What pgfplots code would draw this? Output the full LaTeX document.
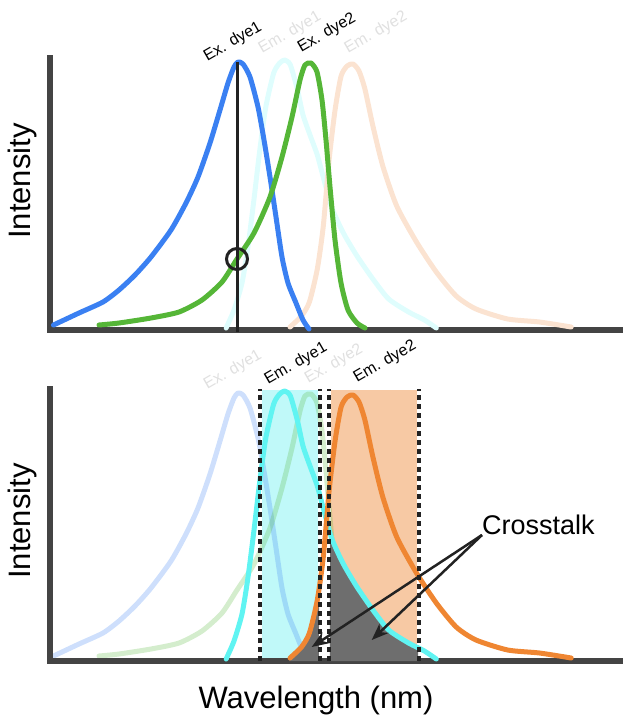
\documentclass[border=0pt]{standalone}
\usepackage{pgfplots}
\pgfplotsset{compat=1.18}
\usepackage{pgfplotstable}
\usepgfplotslibrary{fillbetween}
\usetikzlibrary{arrows.meta}
\usepackage{fontspec}
\setmainfont{Liberation Sans}
\definecolor{axgray}{HTML}{444444}
\definecolor{exblue}{HTML}{3A80F2}
\definecolor{exgreen}{HTML}{55B637}
\definecolor{emcyan}{HTML}{60F4F2}
\definecolor{emorange}{HTML}{EF8632}
\definecolor{fadecyan}{HTML}{DFFDFD}
\definecolor{fadepeach}{HTML}{FBE3D1}
\definecolor{fadetext}{HTML}{E0E0E0}
\definecolor{bandcyan}{HTML}{C0F9F9}
\definecolor{bandorange}{HTML}{F7C9A4}
\definecolor{crossgray}{HTML}{6E6E6E}
\definecolor{ink}{HTML}{222222}

\pgfplotstableread{
x y
53.5 5
79 17
103 28
119 40
135 55
151 73
171 100
186 127
198 153
210 187
220 220
228 247
234 263
238 268
243 266
250 253
258 223
264 190
270 153
276 113
282 73
288 47
296 27
303 10
309 1
}\exone
\pgfplotstableread{
x y
99 5
119 7
151 12
179 18
202 30
222 48
237 71
254 97
270 133
282 173
292 213
300 250
305 265
311 267
317 258
322 230
326 190
330 143
335 90
341 47
348 20
357 7
365 2
}\extwo
\pgfplotstableread{
x y
226.1 2
234 20
242 47
247.9 83
253.9 130
259.8 180
265.8 223
273.7 257
279.7 267
284.8 270
290.4 265
297.5 240
303 215
310 195
317.3 175
324 150
331.2 124
338 108
345 94
357 74
372.9 51
388.7 31
408.6 18
424.4 10
436.3 2
}\emone
\pgfplotstableread{
x y
290 3
301.5 14
309.4 28
317.3 61
323.3 104
329.2 171
335.2 221
341.1 254
347.1 264
353 266
359 259
364.9 241
372.9 204
382.8 164
396.7 124
416.5 88
436.3 58
456.2 34
476 21
507.7 11
539.5 8
571.2 3
}\emtwo

\pgfplotsset{
  panel/.style={scale only axis, width=580pt, height=272pt,
    xmin=50, xmax=630, ymin=0, ymax=272, clip=false,
    axis x line=bottom, axis y line=left,
    axis line style={-, line width=6pt, draw=axgray, line cap=rect},
    xtick=\empty, ytick=\empty},
  curve/.style={line width=5pt, smooth, tension=0.4, line cap=round, line join=round},
}
\newcommand\lbl{\fontsize{16}{19}\selectfont}
\newcommand\bigfnt{\fontsize{31}{36}\selectfont}

\begin{document}
\begin{tikzpicture}
% ---------- top panel ----------
\begin{axis}[panel, at={(50pt,-330pt)}, anchor=south west]
\addplot[curve, fadecyan] table {\emone};
\addplot[curve, fadepeach] table {\emtwo};
\addplot[curve, exblue] table {\exone};
\addplot[curve, exgreen] table {\extwo};
\addplot[ink, line width=3pt] coordinates {(237,-2) (237,268)};
\addplot[only marks, mark=o, mark size=10.5pt, mark options={ink, line width=3pt}] coordinates {(237,71)};
\node[rotate=30, text=black] at (axis cs:233,288) {\lbl Ex. dye1};
\node[rotate=30, text=fadetext] at (axis cs:290,297) {\lbl Em. dye1};
\node[rotate=30, text=black] at (axis cs:327,297) {\lbl Ex. dye2};
\node[rotate=30, text=fadetext] at (axis cs:376,297) {\lbl Em. dye2};
\node[rotate=90] at (axis cs:22,149) {\bigfnt Intensity};
\end{axis}
% ---------- bottom panel ----------
\begin{axis}[panel, set layers, at={(50pt,-661pt)}, anchor=south west]
\addplot[fill=bandcyan, draw=none, on layer=axis background] coordinates {(262,0) (262,271) (318,271) (318,0)} -- cycle;
\addplot[fill=bandorange, draw=none, on layer=axis background] coordinates {(331,0) (331,271) (417,271) (417,0)} -- cycle;
\addplot[curve, exblue, opacity=0.25, on layer=axis background] table {\exone};
\addplot[curve, exgreen, opacity=0.25, on layer=axis background] table {\extwo};
\addplot[draw=none, smooth, tension=0.4, name path=cyB] table {\emone};
\addplot[draw=none, smooth, tension=0.4, name path=orB] table {\emtwo};
\addplot[draw=none, name path=base] coordinates {(50,0) (630,0)};
\addplot[fill=crossgray, draw=none] fill between[of=orB and base, soft clip={domain=289:319}];
\addplot[fill=crossgray, draw=none] fill between[of=cyB and base, soft clip={domain=330:418}];
\addplot[curve, emcyan] table {\emone};
\addplot[curve, emorange] table {\emtwo};
\addplot[ink, line width=3.5pt, dash pattern=on 5pt off 4pt] coordinates {(260,0) (260,272)};
\addplot[ink, line width=3.5pt, dash pattern=on 5pt off 4pt] coordinates {(320,0) (320,272)};
\addplot[ink, line width=3.5pt, dash pattern=on 5pt off 4pt] coordinates {(329,0) (329,272)};
\addplot[ink, line width=3.5pt, dash pattern=on 5pt off 4pt] coordinates {(419,0) (419,272)};
\draw[ink, line width=2.5pt, -{Stealth[length=17pt, width=13pt]}] (axis cs:482,126) -- (axis cs:311.7,14);
\draw[ink, line width=2.5pt, -{Stealth[length=17pt, width=13pt]}] (axis cs:482,126) -- (axis cs:371.7,21);
\node[anchor=west, inner sep=0pt] at (axis cs:482,136) {\fontsize{27}{32}\selectfont Crosstalk};
\node[rotate=30, text=fadetext] at (axis cs:233,291) {\lbl Ex. dye1};
\node[rotate=30, text=black] at (axis cs:296,297) {\lbl Em. dye1};
\node[rotate=30, text=fadetext] at (axis cs:334,297) {\lbl Ex. dye2};
\node[rotate=30, text=black] at (axis cs:385,299) {\lbl Em. dye2};
\node[rotate=90] at (axis cs:22,140) {\bigfnt Intensity};
\node at (axis cs:316,-39) {\bigfnt Wavelength (nm)};
\end{axis}
\pgfresetboundingbox
\path[use as bounding box] (0,0) rectangle (622pt,-717pt);
\end{tikzpicture}
\end{document}
